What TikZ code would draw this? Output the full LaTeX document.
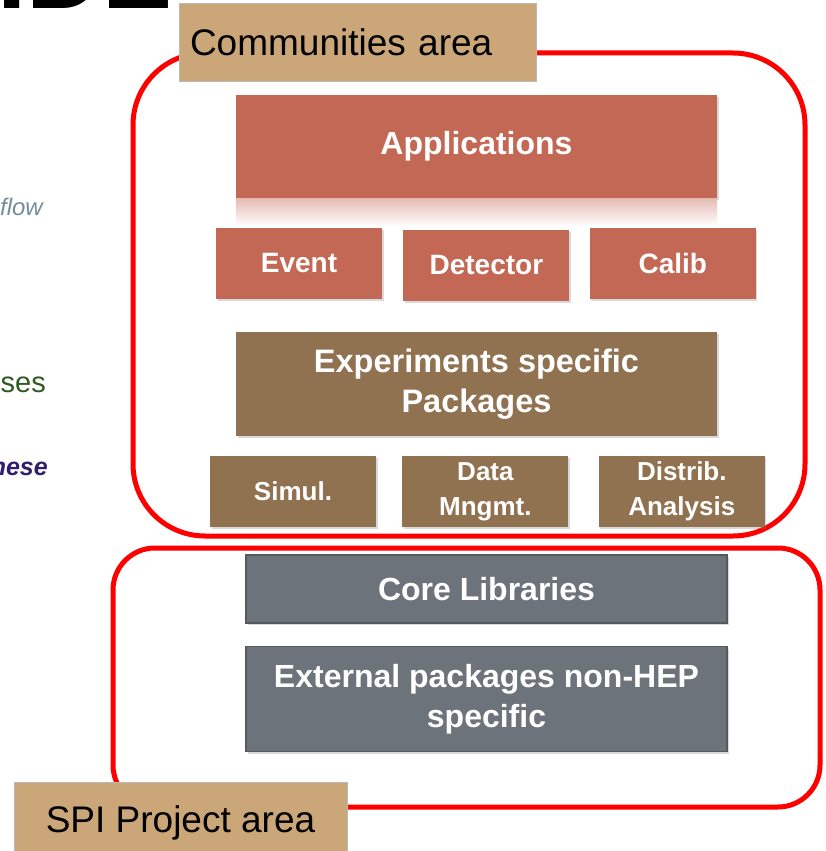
\documentclass[tikz,border=0pt]{standalone}
\usepackage{fontspec}
\setmainfont{Liberation Sans}
\usetikzlibrary{positioning}
\usetikzlibrary{shadows}
\definecolor{appred}{RGB}{195,104,85}
\definecolor{expbrown}{RGB}{144,113,80}
\definecolor{coregray}{RGB}{108,115,122}
\definecolor{coreedge}{RGB}{84,89,95}
\definecolor{areatan}{RGB}{203,166,120}
\definecolor{areaedge}{RGB}{185,185,185}
\definecolor{flowgray}{RGB}{118,140,155}
\definecolor{usesgreen}{RGB}{45,90,30}
\definecolor{thesepurple}{RGB}{50,30,110}
\tikzset{
  layer/.style = {inner sep = 0pt, align = center, text = white,
    drop shadow = {shadow xshift = 1.5pt, shadow yshift = -2pt, opacity = 0.3}},
  appbox/.style = {layer, fill = appred, minimum width = 166pt, minimum height = 71pt,
    font = \fontsize{28}{33}\selectfont\bfseries},
  expbox/.style = {layer, fill = expbrown, minimum width = 166pt, minimum height = 71pt,
    font = \fontsize{26}{35}\selectfont\bfseries},
  corebox/.style = {layer, fill = coregray, draw = coreedge, line width = 1.5pt,
    minimum width = 481pt, font = \fontsize{32}{40}\selectfont\bfseries},
  arealabel/.style = {fill = areatan, draw = areaedge, line width = 1pt, inner sep = 0pt,
    font = \fontsize{37}{42}\selectfont},
  areaframe/.style = {draw = red, line width = 5pt}
}

\begin{document}
\begin{tikzpicture}[x = 1pt, y = -1pt]
  \useasboundingbox (0,0) rectangle (825,851);
  % cut-off slide text on the left
  \node (title) [anchor = base west, inner sep = 0pt, font = \fontsize{105}{105}\selectfont\bfseries] at (-3,9) {IDE};
  \node (flow) [anchor = base east, inner sep = 0pt, text = flowgray, font = \fontsize{24}{28}\selectfont\itshape] at (43,215) {flow};
  \node (uses) [anchor = base east, inner sep = 0pt, text = usesgreen, font = \fontsize{29}{33}\selectfont] at (46,392) {ses};
  \node (these) [anchor = base east, inner sep = 0pt, text = thesepurple, font = \fontsize{25}{29}\selectfont\bfseries\itshape] at (48,475) {nese};
  % areas
  \draw [areaframe, rounded corners = 72pt] (133,53) rectangle (805,536);
  \draw [areaframe, rounded corners = 42pt] (113,548) rectangle (820,807);
  % communities layers
  \node (apps) [appbox, minimum width = 481pt, minimum height = 103pt,
    font = \fontsize{32}{36}\selectfont\bfseries] at (476.5,146.5) {Applications};
  \shade [top color = appred!45, bottom color = white]
    (apps.south west) rectangle ([yshift = -28pt] apps.south east);
  \node (event) [appbox] at (299,263.5) {Event};
  \node (detector) [appbox, right = 21pt of event, yshift = -1.5pt] {Detector};
  \node (calib) [appbox, right = 20pt of detector, yshift = 1.5pt] {Calib};
  \node (exp) [expbox, minimum width = 481pt, minimum height = 104pt,
    font = \fontsize{32.5}{40}\selectfont\bfseries] at (476.5,384) {Experiments specific\\Packages};
  \node (simul) [expbox] at (293,491.5) {Simul.};
  \node (data) [expbox, right = 26pt of simul] {Data\\Mngmt.};
  \node (distrib) [expbox, right = 30pt of data] {Distrib.\\Analysis};
  % SPI layers
  \node (core) [corebox, minimum height = 68pt] at (486.5,589) {Core Libraries};
  \node (ext) [corebox, minimum height = 105pt, below = 22pt of core] {External packages non-HEP\\specific};
  % area labels
  \node (communities) [arealabel, minimum width = 357pt, minimum height = 77pt,
    text width = 335pt, align = left] at (357.5,42.5) {Communities area};
  \node (spi) [arealabel, minimum width = 333pt, minimum height = 82pt, align = center]
    at (180.5,823) {SPI Project area};
\end{tikzpicture}
\end{document}
